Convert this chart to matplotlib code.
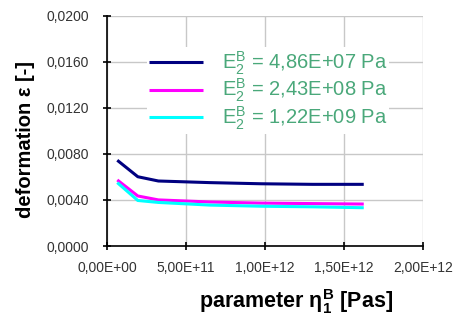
import matplotlib
matplotlib.use("Agg")
import matplotlib.pyplot as plt

plt.rcParams['font.family'] = ['Liberation Sans', 'DejaVu Sans']
plt.rcParams['mathtext.fontset'] = 'custom'
plt.rcParams['mathtext.rm'] = 'Liberation Sans'
plt.rcParams['mathtext.it'] = 'Liberation Sans'
plt.rcParams['mathtext.bf'] = 'Liberation Sans:bold'

eta = [6.5e10, 1.95e11, 3.25e11, 6.5e11, 9.75e11, 1.3e12, 1.625e12]
series_navy = [0.00744, 0.00601, 0.00564, 0.00550, 0.00540, 0.00535, 0.00535]
series_magenta = [0.00573, 0.00434, 0.00400, 0.00382, 0.00372, 0.00368, 0.00364]
series_cyan = [0.00550, 0.00395, 0.00378, 0.00355, 0.00345, 0.00340, 0.00332]
labels = [r'$\mathregular{E_2^B}$ = 4,86E+07 Pa',
          r'$\mathregular{E_2^B}$ = 2,43E+08 Pa',
          r'$\mathregular{E_2^B}$ = 1,22E+09 Pa']
colors = ['#000080', '#ff00ff', '#00ffff']
xticks = [0, 5e11, 1e12, 1.5e12, 2e12]
xticklabels = ['0,00E+00', '5,00E+11', '1,00E+12', '1,50E+12', '2,00E+12']
yticks = [0, 0.004, 0.008, 0.012, 0.016, 0.02]
yticklabels = ['0,0000', '0,0040', '0,0080', '0,0120', '0,0160', '0,0200']

fig = plt.figure(figsize=(4.53, 3.18), dpi=100)
ax = fig.add_axes([107/453, 72/318, 316/453, 230.5/318])

for ys, c, lab in zip([series_navy, series_magenta, series_cyan], colors, labels):
    ax.plot(eta, ys, color=c, lw=2.2, label=lab, solid_capstyle='butt')

ax.set_xlim(0, 2e12)
ax.set_ylim(0, 0.02)
ax.set_xticks(xticks)
ax.set_xticklabels(xticklabels)
ax.set_yticks(yticks)
ax.set_yticklabels(yticklabels)
ax.grid(True, color='#c8c8c8', lw=1)
ax.set_axisbelow(True)
for s in ['top', 'right']:
    ax.spines[s].set_visible(False)
for s in ['left', 'bottom']:
    ax.spines[s].set_color('black')
    ax.spines[s].set_linewidth(1.2)
ax.tick_params(axis='both', direction='inout', length=6, width=1.2,
               labelsize=10, labelcolor='#333333')
ax.tick_params(axis='y', pad=10)
ax.tick_params(axis='x', pad=8)

ax.set_ylabel('deformation ε [-]', fontsize=14.5, fontweight='bold')
ax.yaxis.set_label_coords(-0.228, 0.46)
ax.set_xlabel(r'parameter $\mathbf{\eta_1^B}$ [Pas]', fontsize=15.5, fontweight='bold')
ax.xaxis.set_label_coords(0.598, -0.18)

leg = ax.legend(loc='upper left', bbox_to_anchor=(0.095, 0.905), fontsize=14.5,
                frameon=True, framealpha=1, edgecolor='none', facecolor='white',
                handlelength=2.7, handletextpad=0.9, labelspacing=0.0,
                borderpad=0.1, labelcolor='#4aa87a')

fig.savefig('out.png', dpi=100)
